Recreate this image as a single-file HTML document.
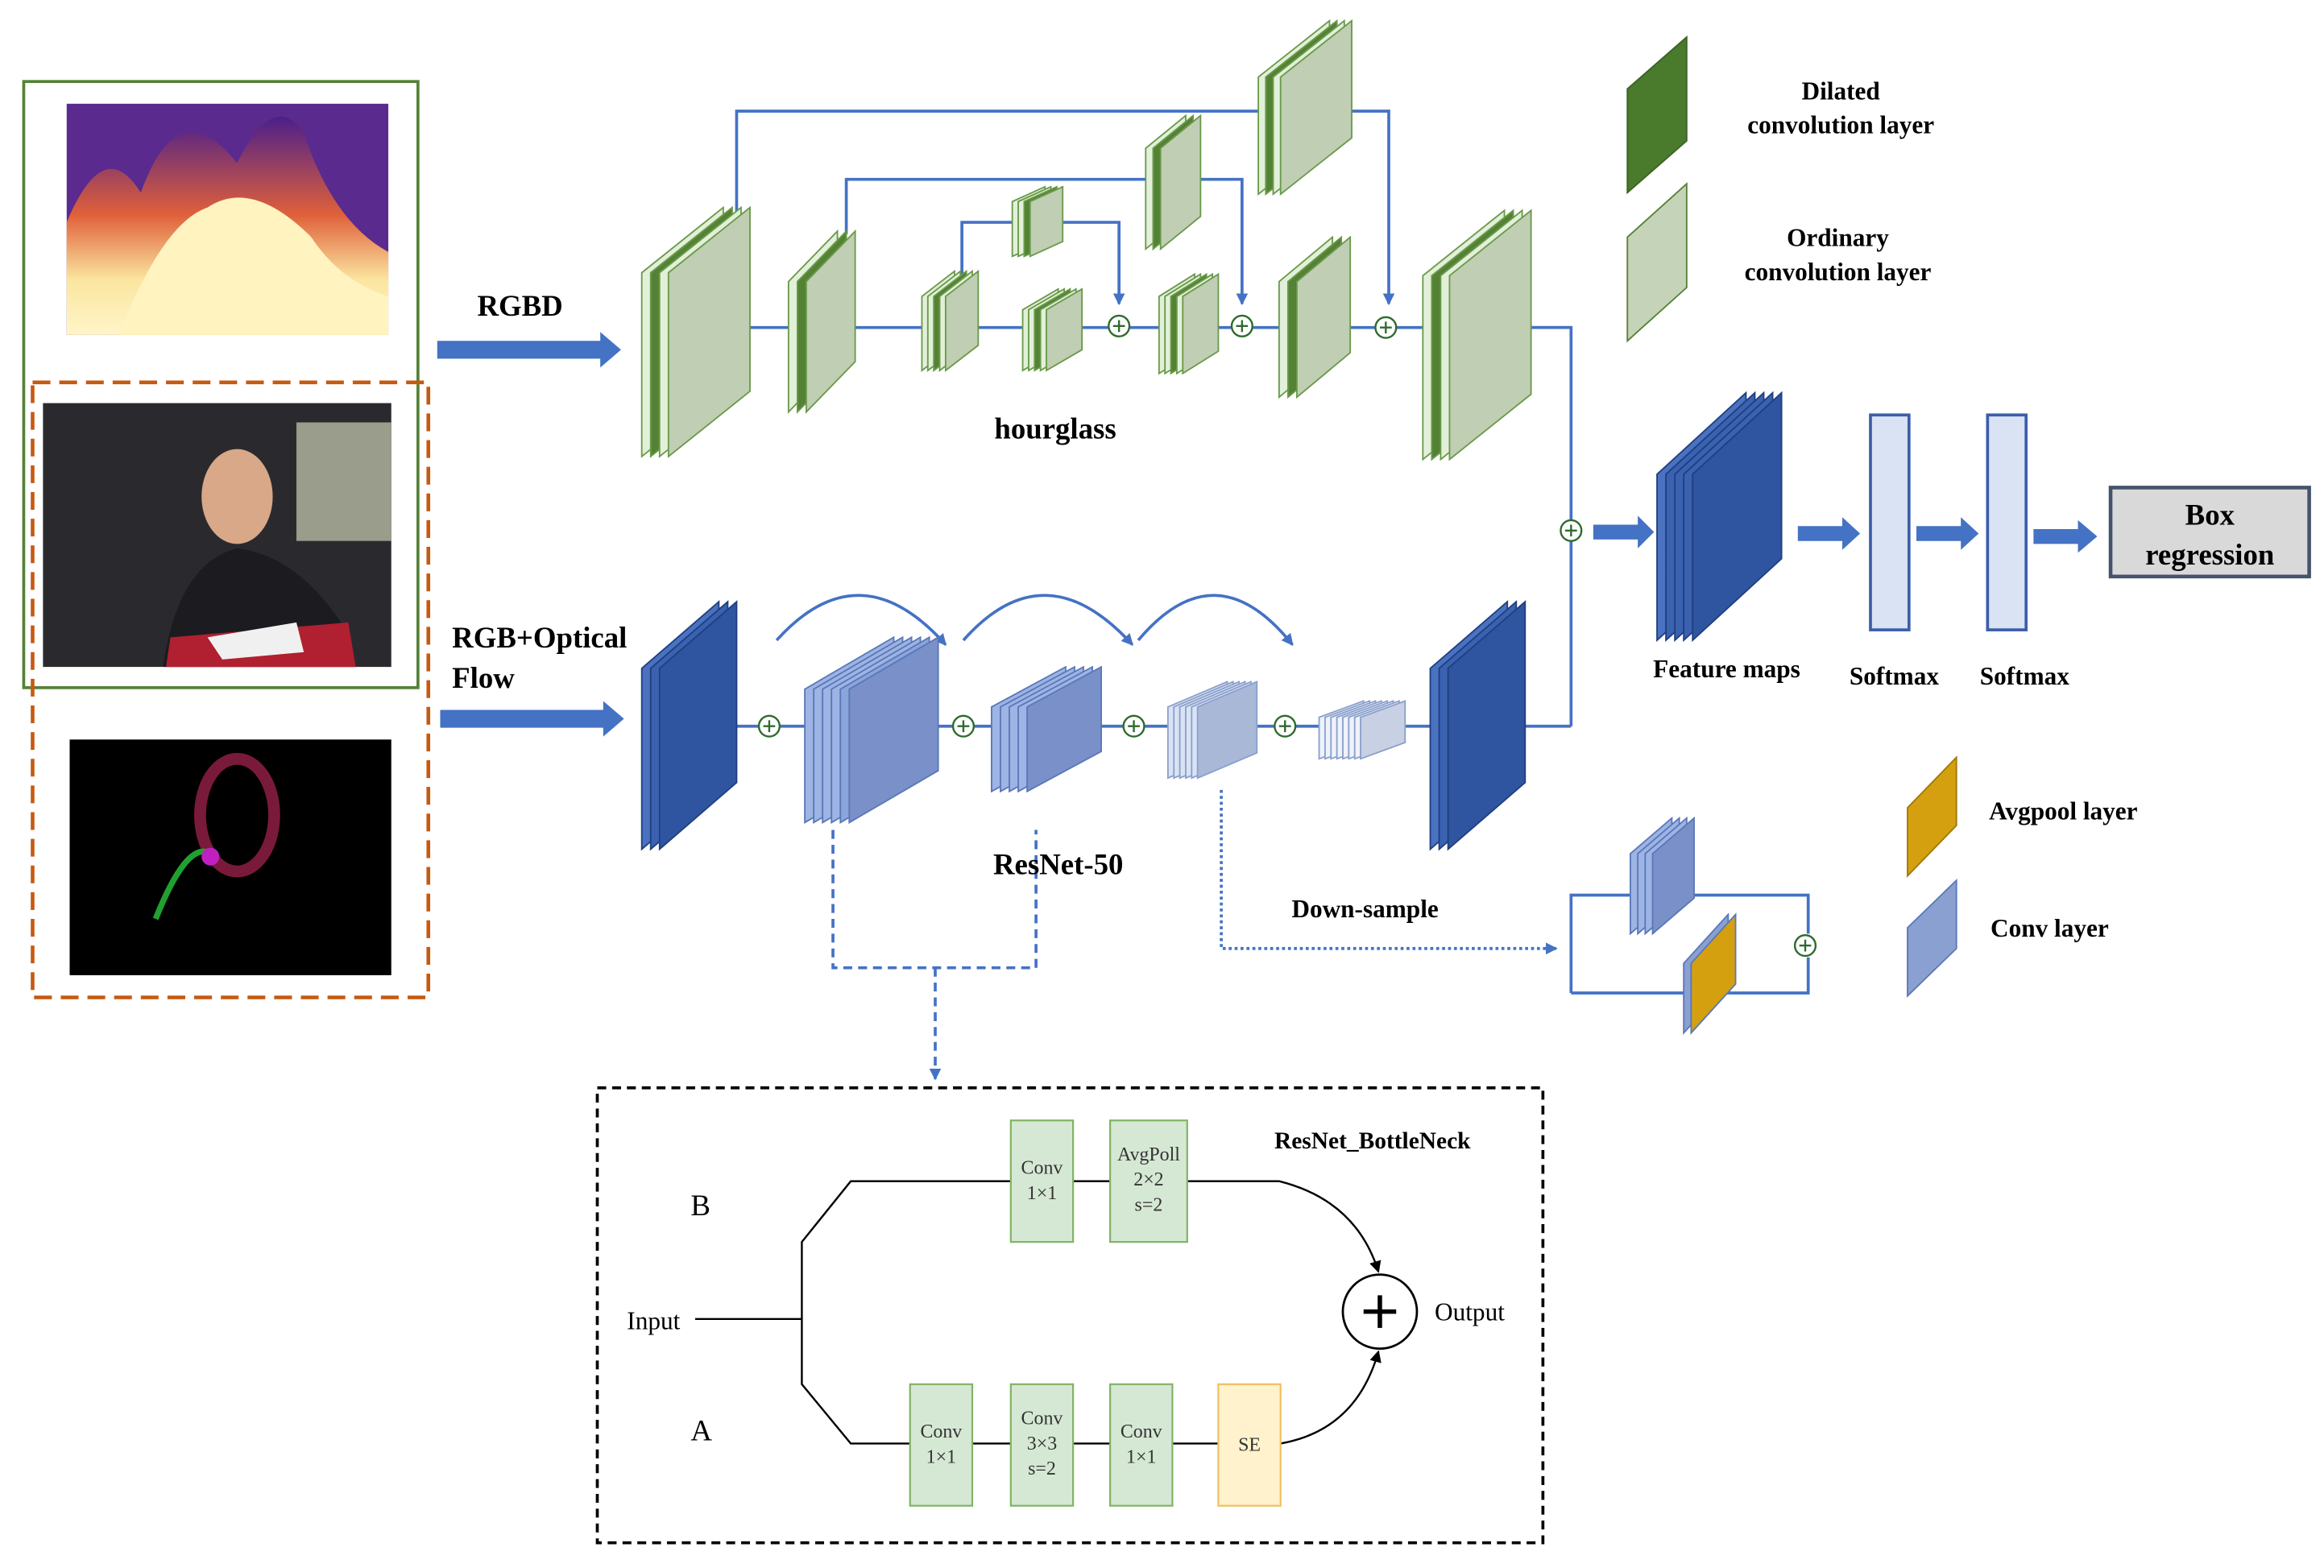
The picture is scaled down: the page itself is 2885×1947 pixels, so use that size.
<!DOCTYPE html>
<html><head><meta charset="utf-8"><style>
html,body{margin:0;padding:0;background:#fff;}
svg{display:block;}
text{font-family:"Liberation Serif",serif;}
.b{font-weight:bold;}
.g use{stroke:#6a9a4a;stroke-width:1;}
.u use{stroke:#1f3f80;stroke-width:1;}
.m use{stroke:#5a78b8;stroke-width:1;}
.l use{stroke:#8aa0cc;stroke-width:1;}
</style></head><body>
<svg width="2885" height="1947" viewBox="0 0 1568 1058" preserveAspectRatio="none" xmlns="http://www.w3.org/2000/svg" xmlns:xlink="http://www.w3.org/1999/xlink">
<defs>
<marker id="ab" markerWidth="8" markerHeight="8" refX="7" refY="4" orient="auto" markerUnits="userSpaceOnUse"><path d="M0,0 L8,4 L0,8 z" fill="#4472c4"/></marker>
<marker id="ak" markerWidth="8" markerHeight="8" refX="7" refY="4" orient="auto" markerUnits="userSpaceOnUse"><path d="M0,0 L8,4 L0,8 z" fill="#000"/></marker>
<linearGradient id="dg" x1="0" y1="0" x2="0" y2="1"><stop offset="0" stop-color="#4b1f8a"/><stop offset="0.45" stop-color="#e0603a"/><stop offset="0.75" stop-color="#fbe6a0"/><stop offset="1" stop-color="#fff5c8"/></linearGradient>
<polygon id="b1" points="433,308 433,184 488,140 488,264"/>
<polygon id="b2" points="532,278 532,190 565,156 565,244"/>
<polygon id="b3" points="622,250 622,200 644,183 644,233"/>
<polygon id="b4" points="690,250 690,209 714,195 714,236"/>
<polygon id="b5" points="683,173 683,136 705,126 705,163"/>
<polygon id="b6" points="773,168 773,100 800,78 800,146"/>
<polygon id="b7" points="782,252 782,200 806,185 806,237"/>
<polygon id="b8" points="849,131 849,52 897,14 897,93"/>
<polygon id="b9" points="863,268 863,190 899,160 899,238"/>
<polygon id="b10" points="960,310 960,186 1015,142 1015,266"/>
<polygon id="r1" points="433,573 433,451 485,406 485,528"/>
<polygon id="r2" points="543,555 543,465 603,430 603,520"/>
<polygon id="r3" points="669,534 669,477 719,450 719,507"/>
<polygon id="r4" points="788,525 788,477 828,460 828,508"/>
<polygon id="r5" points="890,512 890,484 920,473 920,501"/>
<polygon id="r6" points="965,573 965,451 1017,406 1017,528"/>
<polygon id="fm" points="1118,432 1118,320 1178,265 1178,377"/>
<polygon id="d1" points="1100,630 1100,576 1128,552 1128,606"/>
<polygon id="d2" points="1136,697 1136,650 1166,617 1166,664"/>
<g id="pc"><circle r="7" fill="#fff" stroke="#2e6b2e" stroke-width="1.3"/><path d="M-4,0H4M0,-4V4" stroke="#2e6b2e" stroke-width="1.3"/></g>
</defs>

<!-- photos -->
<rect x="45" y="70" width="217" height="156" fill="#5a2a8e"/>
<path d="M45,226 L45,150 Q70,90 95,130 Q120,60 160,110 Q185,60 205,90 Q225,150 262,170 L262,226 Z" fill="url(#dg)"/>
<path d="M80,226 Q110,150 140,140 Q170,120 210,160 Q230,190 262,200 L262,226 Z" fill="#fff3c0"/>
<rect x="29" y="272" width="235" height="178" fill="#2a2a2e"/>
<rect x="200" y="285" width="64" height="80" fill="#9a9c8c"/>
<path d="M110,450 Q120,380 160,370 Q200,375 230,420 L240,450 Z" fill="#1b1b20"/>
<path d="M115,430 L235,420 L240,450 L112,450 Z" fill="#b02030"/>
<path d="M140,430 L200,420 L205,440 L150,445 Z" fill="#f0f0f0"/>
<ellipse cx="160" cy="335" rx="24" ry="32" fill="#d8a888"/>
<rect x="47" y="499" width="217" height="159" fill="#000"/>
<ellipse cx="160" cy="550" rx="25" ry="38" fill="none" stroke="#7a1a3a" stroke-width="8"/>
<path d="M105,620 Q125,570 140,575" stroke="#20a030" stroke-width="4" fill="none"/>
<circle cx="142" cy="578" r="6" fill="#c020c0"/>
<rect x="16" y="55" width="266" height="409" fill="none" stroke="#548235" stroke-width="2"/>
<rect x="22" y="258" width="267" height="415" fill="none" stroke="#c55a11" stroke-width="2.5" stroke-dasharray="12,6"/>

<!-- big arrows -->
<path d="M295,230 L405,230 L405,224 L419,236 L405,248 L405,242 L295,242 Z" fill="#4472c4"/>
<path d="M297,479 L407,479 L407,473 L421,485 L407,497 L407,491 L297,491 Z" fill="#4472c4"/>
<text x="322" y="213" class="b" font-size="20">RGBD</text>
<text x="305" y="437" class="b" font-size="20">RGB+Optical</text>
<text x="305" y="464" class="b" font-size="20">Flow</text>

<!-- connector lines -->
<g stroke="#4472c4" stroke-width="2" fill="none">
<line x1="505" y1="221" x2="1060" y2="221"/>
<polyline points="1030,221 1060,221 1060,351"/>
<polyline points="497,150 497,75 937,75 937,205" marker-end="url(#ab)"/>
<polyline points="571,158 571,121 838,121 838,205" marker-end="url(#ab)"/>
<polyline points="649,186 649,150 755,150 755,205" marker-end="url(#ab)"/>
<line x1="495" y1="490" x2="1060" y2="490"/>
<line x1="1060" y1="490" x2="1060" y2="365"/>
<path d="M524,432 Q580,370 638,435" marker-end="url(#ab)"/>
<path d="M650,432 Q705,370 764,435" marker-end="url(#ab)"/>
<path d="M768,432 Q820,370 872,435" marker-end="url(#ab)"/>
<polyline points="562,560 562,653 699,653 699,560" stroke-dasharray="6,4"/>
<line x1="631" y1="653" x2="631" y2="728" stroke-dasharray="6,4" marker-end="url(#ab)"/>
<polyline points="824,533 824,640 1050,640" stroke-dasharray="2,2" marker-end="url(#ab)"/>
<polyline points="1060,670 1060,604 1220,604 1220,630"/>
<polyline points="1220,646 1220,670 1060,670"/>
</g>

<!-- hourglass blocks -->
<g class="g">
<use xlink:href="#b1" href="#b1" fill="#e2f0d9"/><use xlink:href="#b1" href="#b1" x="6" fill="#548235"/><use xlink:href="#b1" href="#b1" x="12" fill="#e2f0d9"/><use xlink:href="#b1" href="#b1" x="18" fill="#c0ceb4"/>
<use xlink:href="#b2" href="#b2" fill="#e2f0d9"/><use xlink:href="#b2" href="#b2" x="6" fill="#548235"/><use xlink:href="#b2" href="#b2" x="12" fill="#c0ceb4"/>
<use xlink:href="#b3" href="#b3" fill="#e2f0d9"/><use xlink:href="#b3" href="#b3" x="4" fill="#e2f0d9"/><use xlink:href="#b3" href="#b3" x="8" fill="#548235"/><use xlink:href="#b3" href="#b3" x="12" fill="#e2f0d9"/><use xlink:href="#b3" href="#b3" x="16" fill="#c0ceb4"/>
<use xlink:href="#b4" href="#b4" fill="#e2f0d9"/><use xlink:href="#b4" href="#b4" x="4" fill="#e2f0d9"/><use xlink:href="#b4" href="#b4" x="8" fill="#548235"/><use xlink:href="#b4" href="#b4" x="12" fill="#e2f0d9"/><use xlink:href="#b4" href="#b4" x="16" fill="#c0ceb4"/>
<use xlink:href="#b5" href="#b5" fill="#e2f0d9"/><use xlink:href="#b5" href="#b5" x="4" fill="#e2f0d9"/><use xlink:href="#b5" href="#b5" x="8" fill="#548235"/><use xlink:href="#b5" href="#b5" x="12" fill="#c0ceb4"/>
<use xlink:href="#b6" href="#b6" fill="#e2f0d9"/><use xlink:href="#b6" href="#b6" x="5" fill="#548235"/><use xlink:href="#b6" href="#b6" x="10" fill="#c0ceb4"/>
<use xlink:href="#b7" href="#b7" fill="#e2f0d9"/><use xlink:href="#b7" href="#b7" x="4" fill="#e2f0d9"/><use xlink:href="#b7" href="#b7" x="8" fill="#548235"/><use xlink:href="#b7" href="#b7" x="12" fill="#e2f0d9"/><use xlink:href="#b7" href="#b7" x="16" fill="#c0ceb4"/>
<use xlink:href="#b8" href="#b8" fill="#e2f0d9"/><use xlink:href="#b8" href="#b8" x="5" fill="#548235"/><use xlink:href="#b8" href="#b8" x="10" fill="#e2f0d9"/><use xlink:href="#b8" href="#b8" x="15" fill="#c0ceb4"/>
<use xlink:href="#b9" href="#b9" fill="#e2f0d9"/><use xlink:href="#b9" href="#b9" x="6" fill="#548235"/><use xlink:href="#b9" href="#b9" x="12" fill="#c0ceb4"/>
<use xlink:href="#b10" href="#b10" fill="#e2f0d9"/><use xlink:href="#b10" href="#b10" x="6" fill="#548235"/><use xlink:href="#b10" href="#b10" x="12" fill="#e2f0d9"/><use xlink:href="#b10" href="#b10" x="18" fill="#c0ceb4"/>
</g>
<!-- dark blue blocks -->
<g class="u">
<use xlink:href="#r1" href="#r1" fill="#4a72c0"/><use xlink:href="#r1" href="#r1" x="6" fill="#3a62b0"/><use xlink:href="#r1" href="#r1" x="12" fill="#2f55a0"/>
<use xlink:href="#r6" href="#r6" fill="#4a72c0"/><use xlink:href="#r6" href="#r6" x="6" fill="#3a62b0"/><use xlink:href="#r6" href="#r6" x="12" fill="#2f55a0"/>
<use xlink:href="#fm" href="#fm" fill="#4a72c0"/><use xlink:href="#fm" href="#fm" x="6" fill="#3a62b0"/><use xlink:href="#fm" href="#fm" x="12" fill="#3a62b0"/><use xlink:href="#fm" href="#fm" x="18" fill="#3a62b0"/><use xlink:href="#fm" href="#fm" x="24" fill="#2f55a0"/>
</g>
<g class="m">
<use xlink:href="#r2" href="#r2" fill="#9db4e4"/><use xlink:href="#r2" href="#r2" x="6" fill="#9db4e4"/><use xlink:href="#r2" href="#r2" x="12" fill="#9db4e4"/><use xlink:href="#r2" href="#r2" x="18" fill="#9db4e4"/><use xlink:href="#r2" href="#r2" x="24" fill="#8aa5dc"/><use xlink:href="#r2" href="#r2" x="30" fill="#7a90c8"/>
<use xlink:href="#r3" href="#r3" fill="#9db4e4"/><use xlink:href="#r3" href="#r3" x="6" fill="#9db4e4"/><use xlink:href="#r3" href="#r3" x="12" fill="#9db4e4"/><use xlink:href="#r3" href="#r3" x="18" fill="#9db4e4"/><use xlink:href="#r3" href="#r3" x="24" fill="#7a90c8"/>
<use xlink:href="#d1" href="#d1" fill="#9db4e4"/><use xlink:href="#d1" href="#d1" x="5" fill="#9db4e4"/><use xlink:href="#d1" href="#d1" x="10" fill="#9db4e4"/><use xlink:href="#d1" href="#d1" x="15" fill="#7a90c8"/>
<use xlink:href="#d2" href="#d2" fill="#8aa0d0"/><use xlink:href="#d2" href="#d2" x="5" fill="#d4a010" stroke="#a07808"/>
</g>
<g class="l">
<use xlink:href="#r4" href="#r4" fill="#dae3f3"/><use xlink:href="#r4" href="#r4" x="4" fill="#dae3f3"/><use xlink:href="#r4" href="#r4" x="8" fill="#dae3f3"/><use xlink:href="#r4" href="#r4" x="12" fill="#dae3f3"/><use xlink:href="#r4" href="#r4" x="16" fill="#dae3f3"/><use xlink:href="#r4" href="#r4" x="20" fill="#aab8d8"/>
<use xlink:href="#r5" href="#r5" fill="#eef2fa"/><use xlink:href="#r5" href="#r5" x="4" fill="#eef2fa"/><use xlink:href="#r5" href="#r5" x="8" fill="#eef2fa"/><use xlink:href="#r5" href="#r5" x="12" fill="#eef2fa"/><use xlink:href="#r5" href="#r5" x="16" fill="#eef2fa"/><use xlink:href="#r5" href="#r5" x="20" fill="#eef2fa"/><use xlink:href="#r5" href="#r5" x="24" fill="#eef2fa"/><use xlink:href="#r5" href="#r5" x="28" fill="#c8d0e4"/>
</g>

<!-- plus circles -->
<use xlink:href="#pc" href="#pc" x="755" y="220"/>
<use xlink:href="#pc" href="#pc" x="838" y="220"/>
<use xlink:href="#pc" href="#pc" x="935" y="221"/>
<use xlink:href="#pc" href="#pc" x="1060" y="358"/>
<use xlink:href="#pc" href="#pc" x="519" y="490"/>
<use xlink:href="#pc" href="#pc" x="650" y="490"/>
<use xlink:href="#pc" href="#pc" x="765" y="490"/>
<use xlink:href="#pc" href="#pc" x="867" y="490"/>
<use xlink:href="#pc" href="#pc" x="1218" y="638"/>

<text x="712" y="296" class="b" font-size="20" text-anchor="middle">hourglass</text>
<text x="714" y="590" class="b" font-size="20" text-anchor="middle">ResNet-50</text>
<text x="921" y="619" class="b" font-size="17" text-anchor="middle">Down-sample</text>

<!-- right side -->
<g fill="#4472c4">
<path d="M1075,354 L1105,354 L1105,348 L1116,359 L1105,370 L1105,364 L1075,364 Z"/>
<path d="M1213,355 L1243,355 L1243,349 L1255,360 L1243,371 L1243,365 L1213,365 Z"/>
<path d="M1293,355 L1323,355 L1323,349 L1335,360 L1323,371 L1323,365 L1293,365 Z"/>
<path d="M1372,357 L1402,357 L1402,351 L1415,362 L1402,373 L1402,367 L1372,367 Z"/>
</g>
<rect x="1262" y="280" width="26" height="145" fill="#dae3f3" stroke="#3c5ea8" stroke-width="2"/>
<rect x="1341" y="280" width="26" height="145" fill="#dae3f3" stroke="#3c5ea8" stroke-width="2"/>
<rect x="1424" y="329" width="134" height="60" fill="#d9d9d9" stroke="#44546a" stroke-width="2.5"/>
<text x="1491" y="354" class="b" font-size="20" text-anchor="middle">Box</text>
<text x="1491" y="381" class="b" font-size="20" text-anchor="middle">regression</text>
<text x="1165" y="457" class="b" font-size="17" text-anchor="middle">Feature maps</text>
<text x="1278" y="462" class="b" font-size="17" text-anchor="middle">Softmax</text>
<text x="1366" y="462" class="b" font-size="17" text-anchor="middle">Softmax</text>

<!-- legend -->
<polygon points="1098,130 1098,60 1138,25 1138,95" fill="#4a7a2c" stroke="#3b6322"/>
<polygon points="1098,230 1098,160 1138,124 1138,194" fill="#c5d4b8" stroke="#548235"/>
<text x="1242" y="67" class="b" font-size="17" text-anchor="middle">Dilated</text>
<text x="1242" y="90" class="b" font-size="17" text-anchor="middle">convolution layer</text>
<text x="1240" y="166" class="b" font-size="17" text-anchor="middle">Ordinary</text>
<text x="1240" y="189" class="b" font-size="17" text-anchor="middle">convolution layer</text>
<polygon points="1287,591 1287,545 1320,511 1320,557" fill="#d4a010" stroke="#a07808"/>
<polygon points="1287,672 1287,626 1320,594 1320,640" fill="#8aa0d0" stroke="#5a78b8"/>
<text x="1342" y="553" class="b" font-size="17">Avgpool layer</text>
<text x="1343" y="632" class="b" font-size="17">Conv layer</text>

<!-- bottleneck -->
<rect x="403" y="734" width="638" height="307" fill="none" stroke="#000" stroke-width="2" stroke-dasharray="6,4"/>
<g stroke="#000" stroke-width="1.3" fill="none">
<line x1="469" y1="890" x2="541" y2="890"/>
<polyline points="682,797 574,797 541,838 541,934 574,974 614,974"/>
<line x1="724" y1="797" x2="749" y2="797"/>
<path d="M801,797 L863,797 Q915,810 930,858" marker-end="url(#ak)"/>
<line x1="656" y1="974" x2="682" y2="974"/>
<line x1="724" y1="974" x2="749" y2="974"/>
<line x1="791" y1="974" x2="822" y2="974"/>
<path d="M864,974 Q915,965 930,912" marker-end="url(#ak)"/>
</g>
<circle cx="931" cy="885" r="25" fill="#fff" stroke="#000" stroke-width="1.5"/>
<path d="M920,885 H942 M931,874 V896" stroke="#000" stroke-width="3"/>
<g fill="#d5e8d4" stroke="#82b366" stroke-width="1.2">
<rect x="682" y="756" width="42" height="82"/>
<rect x="749" y="756" width="52" height="82"/>
<rect x="614" y="934" width="42" height="82"/>
<rect x="682" y="934" width="42" height="82"/>
<rect x="749" y="934" width="42" height="82"/>
</g>
<rect x="822" y="934" width="42" height="82" fill="#fff2cc" stroke="#f0c060" stroke-width="1.2"/>
<g font-size="13" text-anchor="middle" fill="#333">
<text x="703" y="792">Conv</text><text x="703" y="809">1×1</text>
<text x="775" y="783">AvgPoll</text><text x="775" y="800">2×2</text><text x="775" y="817">s=2</text>
<text x="635" y="970">Conv</text><text x="635" y="987">1×1</text>
<text x="703" y="961">Conv</text><text x="703" y="978">3×3</text><text x="703" y="995">s=2</text>
<text x="770" y="970">Conv</text><text x="770" y="987">1×1</text>
<text x="843" y="979">SE</text>
</g>
<text x="926" y="775" class="b" font-size="16" text-anchor="middle">ResNet_BottleNeck</text>
<text x="423" y="897" font-size="17">Input</text>
<text x="968" y="891" font-size="17">Output</text>
<text x="466" y="820" font-size="20">B</text>
<text x="466" y="972" font-size="20">A</text>
</svg>
</body></html>
